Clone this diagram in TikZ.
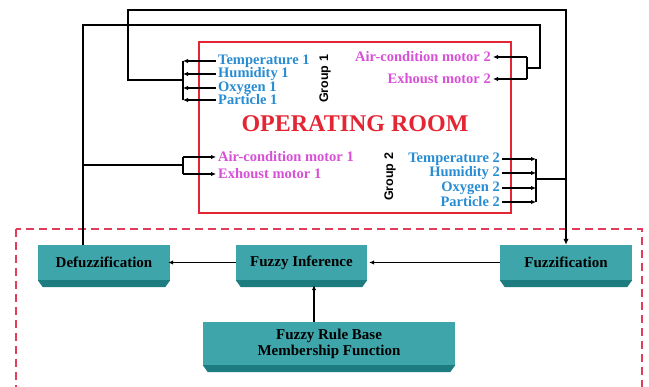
\documentclass[tikz,border=0pt]{standalone}
\usepackage{fontspec}
\setmainfont{Liberation Serif}
\newfontfamily\grpfont{Liberation Sans}
\usetikzlibrary{arrows.meta}

\definecolor{sensblue}{RGB}{40,140,210}
\definecolor{motpink}{RGB}{215,80,215}
\definecolor{roomred}{RGB}{228,38,52}
\definecolor{dashred}{RGB}{225,60,90}
\definecolor{facet}{RGB}{62,166,170}
\definecolor{bevel}{RGB}{28,124,128}

\tikzset{
  wire/.style={draw,line width=2pt},
  thinarr/.style={draw,line width=1.3pt,-{Latex[length=5pt,width=4.5pt]}},
  sens/.style={font=\fontsize{14.5}{15}\selectfont\bfseries,text=sensblue,inner sep=2pt},
  mot/.style={font=\fontsize{14.5}{15}\selectfont\bfseries,text=motpink,inner sep=2pt},
  grp/.style={font=\grpfont\fontsize{12.5}{12.5}\selectfont\bfseries,rotate=90,inner sep=0pt},
  fbox/.style={fill=facet,minimum height=35pt,inner sep=0pt,align=center,
    font=\fontsize{15}{16}\selectfont\bfseries},
}

\begin{document}
\begin{tikzpicture}[x=1pt,y=-1pt]
  \useasboundingbox (0,0) rectangle (649,387);

  \draw[roomred,line width=2pt] (199,42) rectangle (511,213);
  \draw[dashred,line width=2pt,dash pattern=on 8pt off 5pt] (16,229) rectangle (642,392);

  \node[text=roomred,font=\fontsize{24}{24}\selectfont\bfseries] (room) at (355,124) {OPERATING ROOM};

  \node[sens,anchor=west] (temp1) at (216,61) {Temperature 1};
  \node[sens,anchor=west] (hum1) at (216,74) {Humidity 1};
  \node[sens,anchor=west] (oxy1) at (216,88) {Oxygen 1};
  \node[sens,anchor=west] (part1) at (216,100) {Particle 1};
  \node[grp] (grp1) at (325,79) {Group 1};

  \node[mot,anchor=east] (ac2) at (493,57) {Air-condition motor 2};
  \node[mot,anchor=east] (ex2) at (493,79) {Exhoust motor 2};

  \node[mot,anchor=west] (ac1) at (216,157) {Air-condition motor 1};
  \node[mot,anchor=west] (ex1) at (216,174) {Exhoust motor 1};

  \node[sens,anchor=east] (temp2) at (502,159) {Temperature 2};
  \node[sens,anchor=east] (hum2) at (502,173) {Humidity 2};
  \node[sens,anchor=east] (oxy2) at (502,188) {Oxygen 2};
  \node[sens,anchor=east] (part2) at (502,202) {Particle 2};
  \node[grp] (grp2) at (390,177) {Group 2};

  \node[fbox,minimum width=132pt] (defuz) at (104,262.5) {Defuzzification};
  \node[fbox,minimum width=131pt] (infer) at (301.5,262.5) {Fuzzy Inference};
  \node[fbox,minimum width=132pt] (fuzz) at (566,262.5) {Fuzzification};
  \node[fbox,minimum width=252pt,minimum height=43pt] (rule) at (329,343.5) {Fuzzy Rule Base\\Membership Function};

  \foreach \b in {defuz,infer,fuzz,rule}
    \fill[bevel] (\b.south west) -- (\b.south east) -- ([xshift=-5pt,yshift=-7pt]\b.south east)
      -- ([xshift=5pt,yshift=-7pt]\b.south west) -- cycle;

  \coordinate (b1) at (183,80);
  \coordinate (t1) at (128,10);
  \coordinate (b2) at (536,179);
  \coordinate (d1) at (83,25);
  \coordinate (d2) at (540,68);
  \coordinate (b3) at (527,68);
  \coordinate (b4) at (183,165);
  \coordinate (rb) at (314,300);

  \foreach \s in {temp1,hum1,oxy1,part1}
    \path[thinarr] (\s.west) -- (\s.west -| b1);
  \path[wire] (b1 |- temp1.west) -- (b1 |- part1.west);
  \path[wire,-{Latex[length=6pt,width=5.5pt]}] (b1) -| (t1) -| (fuzz.north);

  \foreach \s in {temp2,hum2,oxy2,part2}
    \path[thinarr] (\s.east) -- (\s.east -| b2);
  \path[wire] (b2 |- temp2.east) -- (b2 |- part2.east);
  \path[wire] (b2) -- (b2 -| fuzz.north);

  \path[wire] (defuz.north -| d1) -- (d1) -| (d2) -- (b3);
  \path[wire] (b3 |- ac2.east) -- (b3 |- ex2.east);
  \foreach \s in {ac2,ex2}
    \path[thinarr] (\s.east -| b3) -- (\s.east);

  \path[wire] (b4) -- (b4 -| d1);
  \path[wire] (b4 |- ac1.west) -- (b4 |- ex1.west);
  \foreach \s in {ac1,ex1}
    \path[thinarr] (\s.west -| b4) -- (\s.west);

  \path[thinarr] (fuzz.west) -- ([xshift=2pt]infer.east);
  \path[thinarr] (infer.west) -- ([xshift=-2pt]defuz.east);
  \path[thinarr] (rule.north -| rb) -- ([yshift=-5pt]infer.south -| rb);
\end{tikzpicture}
\end{document}
